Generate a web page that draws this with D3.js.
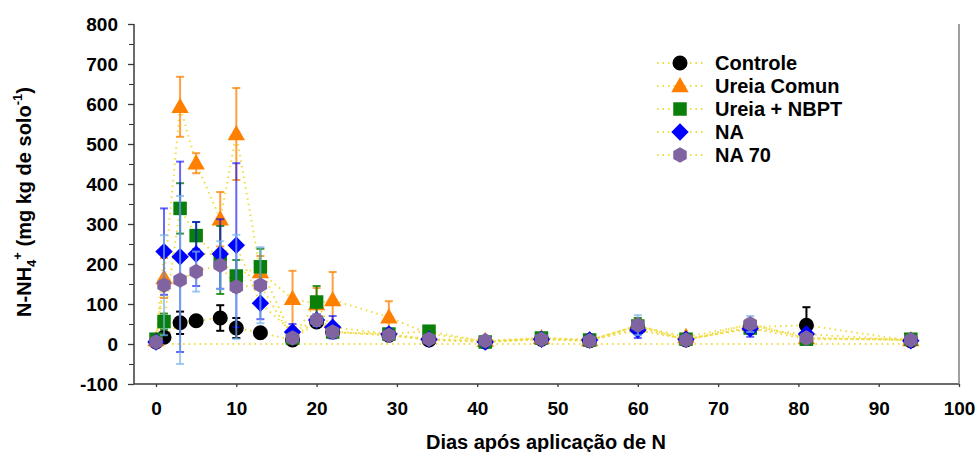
<!DOCTYPE html>
<html><head><meta charset="utf-8">
<script src="https://cdn.jsdelivr.net/npm/d3@7"></script>
<style>
body{margin:0;background:#fff;}
text{font-family:"Liberation Sans",Arial,sans-serif;font-weight:bold;}
</style></head>
<body><svg id="c" width="976" height="452"></svg>
<script>
const days = [0,1,3,5,8,10,13,17,20,22,29,34,41,48,54,60,66,74,81,94];
const seriesNames = ["Controle","Ureia Comun","Ureia + NBPT","NA","NA 70"];
const controle    = [5,17,53,58,65,40,28,10,55,30,22,10,5,12,8,40,10,42,47,8];
const controleErr = [3,8,28,12,32,25,8,5,10,8,5,5,3,5,3,15,5,10,45,3];
const ureia       = [10,165,593,452,312,525,180,113,100,110,67,25,8,15,10,45,18,48,15,10];
const ureiaErr    = [5,50,75,25,68,115,40,70,40,70,40,10,3,5,3,20,5,15,10,3];
const nbpt        = [12,56,339,271,210,170,193,15,105,30,25,32,5,15,10,45,12,40,12,12];
const nbptErr     = [5,20,63,34,85,40,45,5,40,10,5,5,3,5,3,20,5,15,5,3];
const na          = [5,231,218,225,225,247,102,30,60,42,25,12,5,12,10,35,12,38,25,8];
const naErr       = [3,108,238,80,87,205,40,20,15,28,10,5,3,5,3,20,5,20,10,3];
const na70        = [5,147,160,181,197,143,147,15,60,30,22,12,8,12,8,47,10,50,15,10];
const na70Err     = [3,125,210,50,60,130,95,5,15,8,5,3,3,5,3,25,5,20,8,3];
const baselineDays = [2,94];
const baselineVals = [0,0];
const yTicks = [-100,0,100,200,300,400,500,600,700,800];
const yMinor = [-50,50,150,250,350,450,550,650,750];
const xTicks = [0,10,20,30,40,50,60,70,80,90,100];

const svg = d3.select("#c");
const x = d3.scaleLinear().domain([0,100]).range([156,959]);
const y = d3.scaleLinear().domain([-100,800]).range([384,24]);
const axisColor = "#3a3a3a";

const values = [controle,ureia,nbpt,na,na70];
const errs = [controleErr,ureiaErr,nbptErr,naErr,na70Err];
const fills = ["#000000","#ff8000","#0a800a","#0000ff","#8064a2"];
const errColors = ["#000000","rgba(255,128,0,0.75)","rgba(10,128,10,0.8)","rgba(0,0,255,0.6)","rgba(120,180,235,0.7)"];
const shapes = ["circle","triangle","square","diamond","hexagon"];
const lineColor = "#f0dc40";

function shapePath(kind, s){
  if(kind==="circle") return d3.symbol(d3.symbolCircle, s*s*0.79)();
  if(kind==="triangle") return `M0,${-s*0.6}L${s*0.58},${s*0.42}L${-s*0.58},${s*0.42}Z`;
  if(kind==="square") { const h=s*0.45; return `M${-h},${-h}H${h}V${h}H${-h}Z`; }
  if(kind==="diamond") { const h=s*0.58; return `M0,${-h}L${h},0L0,${h}L${-h},0Z`; }
  if(kind==="hexagon"){ const r=s*0.52; let p=""; for(let i=0;i<6;i++){const a=Math.PI/3*i - Math.PI/2; p+=(i?"L":"M")+(r*Math.cos(a)).toFixed(2)+","+(r*Math.sin(a)).toFixed(2);} return p+"Z"; }
}
const size = 15;

// axes
const yAxis = d3.axisLeft(y).tickValues(yTicks).tickSize(6).tickPadding(10).tickFormat(d=>String(d));
const gy = svg.append("g").attr("transform","translate(134,0)").call(yAxis);
gy.select(".domain").remove();
gy.selectAll(".tick line").attr("stroke",axisColor).attr("stroke-width",1.3);
gy.selectAll("text").attr("font-size",19).attr("fill","#000");
const gym = svg.append("g").attr("transform","translate(134,0)").call(d3.axisLeft(y).tickValues(yMinor).tickSize(5).tickFormat(""));
gym.select(".domain").remove();
gym.selectAll(".tick line").attr("stroke",axisColor).attr("stroke-width",1.1);

const xAxis = d3.axisBottom(x).tickValues(xTicks).tickSize(3).tickPadding(15).tickFormat(d=>String(d));
const gx = svg.append("g").attr("transform","translate(0,384)").call(xAxis);
gx.select(".domain").remove();
gx.selectAll(".tick line").attr("stroke",axisColor).attr("stroke-width",1.3);
gx.selectAll("text").attr("font-size",19).attr("fill","#000");

svg.append("line").attr("x1",134).attr("x2",134).attr("y1",y(800)).attr("y2",y(-100)).attr("stroke",axisColor).attr("stroke-width",1.5);
svg.append("line").attr("x1",134).attr("x2",x(100)).attr("y1",y(-100)).attr("y2",y(-100)).attr("stroke",axisColor).attr("stroke-width",1.5);
svg.append("line").attr("x1",x(100)).attr("x2",x(100)).attr("y1",y(800)).attr("y2",y(-100)).attr("stroke","#808080").attr("stroke-width",1.5);

// titles
svg.append("text").attr("x",546).attr("y",449).attr("text-anchor","middle").attr("font-size",20).text("Dias após aplicação de N");
const yt = svg.append("text").attr("transform","translate(31,202) rotate(-90)").attr("text-anchor","middle").attr("font-size",20);
yt.append("tspan").text("N-NH");
yt.append("tspan").attr("font-size",13).attr("dy",5).text("4");
yt.append("tspan").attr("font-size",13).attr("dy",-14).text("+");
yt.append("tspan").attr("dy",9).text(" (mg kg de solo");
yt.append("tspan").attr("font-size",13).attr("dy",-9).text("-1");
yt.append("tspan").attr("dy",9).text(")");

// lines
const line = d3.line().x(d=>x(d[0])).y(d=>y(d[1]));
const lines = svg.append("g");
lines.append("path").attr("d",line(baselineDays.map((d,i)=>[d,baselineVals[i]])))
  .attr("fill","none").attr("stroke",lineColor).attr("stroke-width",2).attr("stroke-dasharray","1.5,4");
values.forEach(v=>{
  lines.append("path").attr("d",line(days.map((d,i)=>[d,v[i]])))
    .attr("fill","none").attr("stroke",lineColor).attr("stroke-width",2).attr("stroke-dasharray","1.5,4");
});

// error bars + markers
values.forEach((v,si)=>{
  const g = svg.append("g");
  days.forEach((d,i)=>{
    const cx=x(d), y1=y(v[i]+errs[si][i]), y2=y(v[i]-errs[si][i]);
    const c = errColors[si];
    g.append("line").attr("x1",cx).attr("x2",cx).attr("y1",y1).attr("y2",y2).attr("stroke",c).attr("stroke-width",2);
    g.append("line").attr("x1",cx-4).attr("x2",cx+4).attr("y1",y1).attr("y2",y1).attr("stroke",c).attr("stroke-width",2);
    g.append("line").attr("x1",cx-4).attr("x2",cx+4).attr("y1",y2).attr("y2",y2).attr("stroke",c).attr("stroke-width",2);
  });
  g.selectAll("path.m").data(days).join("path").attr("class","m")
    .attr("d",shapePath(shapes[si],size))
    .attr("transform",(d,i)=>`translate(${x(d)},${y(v[i])})`)
    .attr("fill",fills[si]);
});

// legend
const lg = svg.append("g");
seriesNames.forEach((n,i)=>{
  const cy = 63 + i*23;
  lg.append("line").attr("x1",657).attr("x2",704).attr("y1",cy).attr("y2",cy).attr("stroke",lineColor).attr("stroke-width",2).attr("stroke-dasharray","1.5,4");
  lg.append("path").attr("d",shapePath(shapes[i],size)).attr("transform",`translate(680,${cy})`).attr("fill",fills[i]);
  lg.append("text").attr("x",715).attr("y",cy+7).attr("font-size",20).attr("fill","#000").text(n);
});
</script></body></html>
